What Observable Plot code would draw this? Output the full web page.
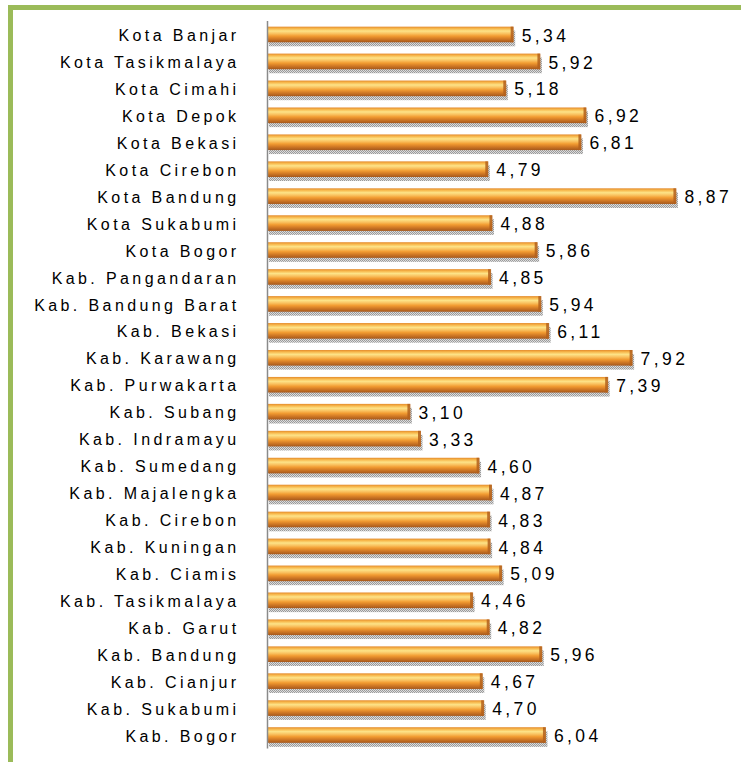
<!DOCTYPE html>
<html>
<head>
<meta charset="utf-8">
<script src="https://cdn.jsdelivr.net/npm/d3@7"></script>
<script src="https://cdn.jsdelivr.net/npm/@observablehq/plot@0.6"></script>
<style>
  html, body { margin: 0; padding: 0; background: #fff; }
  #wrap { position: relative; width: 741px; height: 762px; overflow: hidden; }
  #frame { position: absolute; left: 8px; top: 5px; right: -10px; bottom: -10px;
           border-left: 5px solid #9bbb59; border-top: 5px solid #9bbb59; }
  #chart { position: absolute; left: 0; top: 0; }
</style>
</head>
<body>
<div id="wrap"><div id="frame"></div><div id="chart"></div></div>
<script>
const regions = [
  "Kota Banjar", "Kota Tasikmalaya", "Kota Cimahi", "Kota Depok", "Kota Bekasi",
  "Kota Cirebon", "Kota Bandung", "Kota Sukabumi", "Kota Bogor", "Kab. Pangandaran",
  "Kab. Bandung Barat", "Kab. Bekasi", "Kab. Karawang", "Kab. Purwakarta", "Kab. Subang",
  "Kab. Indramayu", "Kab. Sumedang", "Kab. Majalengka", "Kab. Cirebon", "Kab. Kuningan",
  "Kab. Ciamis", "Kab. Tasikmalaya", "Kab. Garut", "Kab. Bandung", "Kab. Cianjur",
  "Kab. Sukabumi", "Kab. Bogor"
];
const values = [
  5.34, 5.92, 5.18, 6.92, 6.81,
  4.79, 8.87, 4.88, 5.86, 4.85,
  5.94, 6.11, 7.92, 7.39, 3.10,
  3.33, 4.60, 4.87, 4.83, 4.84,
  5.09, 4.46, 4.82, 5.96, 4.67,
  4.70, 6.04
];

const data = regions.map((r, i) => ({region: r, value: values[i]}));
const fmt = v => v.toFixed(2).replace(".", ",");

function defs() {
  const ns = "http://www.w3.org/2000/svg";
  const d = document.createElementNS(ns, "defs");
  const g = document.createElementNS(ns, "linearGradient");
  g.setAttribute("id", "barGrad");
  g.setAttribute("x1", "0"); g.setAttribute("y1", "0");
  g.setAttribute("x2", "0"); g.setAttribute("y2", "1");
  const stops = [
    [0, "#e38a2c"], [0.12, "#f7b64a"], [0.28, "#fde388"], [0.45, "#f9c05e"],
    [0.6, "#f29c32"], [0.78, "#d27a25"], [1, "#a5581c"]
  ];
  for (const [o, c] of stops) {
    const s = document.createElementNS(ns, "stop");
    s.setAttribute("offset", o); s.setAttribute("stop-color", c);
    g.appendChild(s);
  }
  d.appendChild(g);
  const p = document.createElementNS(ns, "pattern");
  p.setAttribute("id", "shadowDots");
  p.setAttribute("width", "2"); p.setAttribute("height", "2");
  p.setAttribute("patternUnits", "userSpaceOnUse");
  const bg = document.createElementNS(ns, "rect");
  bg.setAttribute("width", "2"); bg.setAttribute("height", "2"); bg.setAttribute("fill", "#dcdcdc");
  p.appendChild(bg);
  for (const [x, y] of [[0, 0], [1, 1]]) {
    const r = document.createElementNS(ns, "rect");
    r.setAttribute("x", x); r.setAttribute("y", y);
    r.setAttribute("width", "1"); r.setAttribute("height", "1"); r.setAttribute("fill", "#9a9a9a");
    p.appendChild(r);
  }
  d.appendChild(p);
  return d;
}

const chart = Plot.plot({
  width: 741,
  height: 762,
  marginLeft: 267,
  marginRight: 13,
  marginTop: 21,
  marginBottom: 13.5,
  style: {fontFamily: "'Liberation Sans', Arial, sans-serif", color: "#000", letterSpacing: "3.4px", background: "transparent"},
  x: {domain: [0, 10], axis: null},
  y: {domain: regions, paddingInner: 0.42, paddingOuter: 0.21, round: false, label: null},
  marks: [
    defs,
    Plot.axisY({tickSize: 0, tickPadding: 28, fontSize: 16, dy: 1}),
    Plot.barX(data, {x: "value", y: "region", fill: "url(#shadowDots)", dx: 2, dy: 4}),
    Plot.barX(data, {x: "value", y: "region", fill: "url(#barGrad)"}),
    Plot.tickX(data, {x: "value", y: "region", stroke: "#b3601c", strokeWidth: 3, dx: -1.5, strokeOpacity: 0.85}),
    Plot.ruleX([0], {stroke: "#8a8a8a", strokeWidth: 1.5}),
    Plot.text(data, {x: "value", y: "region", text: d => fmt(d.value), textAnchor: "start", dx: 8, dy: 1, fontSize: 17.5, fill: "#000"})
  ]
});
document.getElementById("chart").appendChild(chart);
</script>
</body>
</html>
